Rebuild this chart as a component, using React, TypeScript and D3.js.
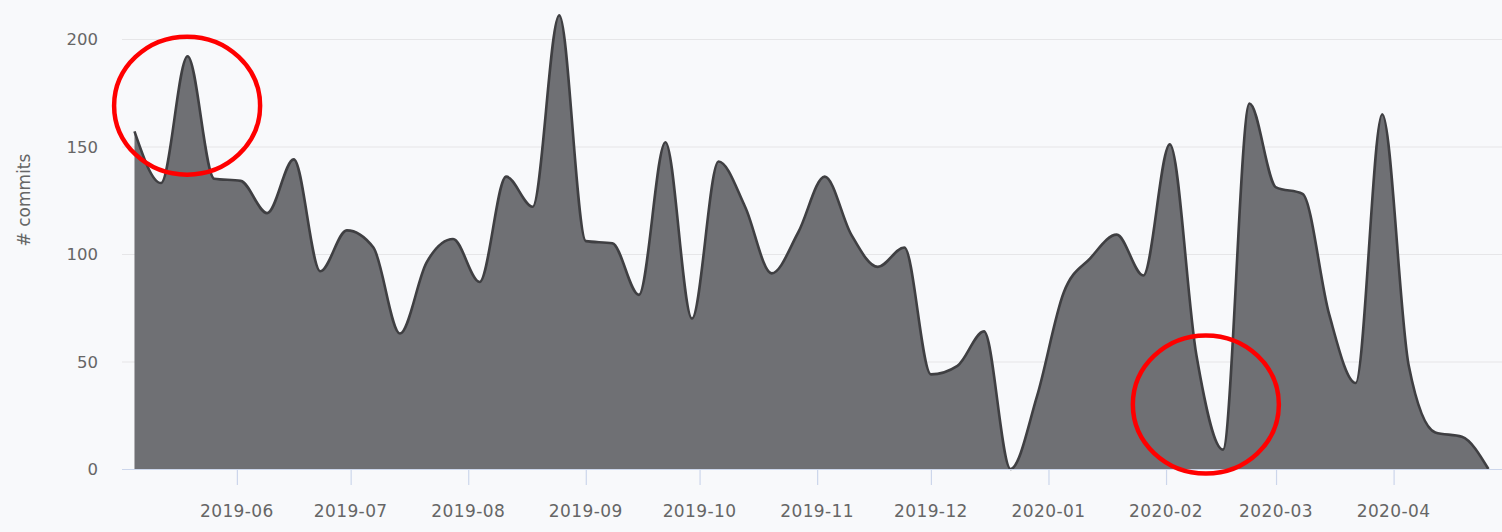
import React from 'react';
import * as d3 from 'd3';

// Weekly commit counts (weeks starting on Sunday)
const weekStarts: Date[] = d3.utcWeek.range(new Date(Date.UTC(2019, 4, 5)), new Date(Date.UTC(2020, 3, 27)));
const commits: number[] = [
  157, 133, 192, 135, 134, 119, 144, 92, 111, 103, 63, 96, 107, 87, 136, 122,
  211, 106, 105, 81, 152, 70, 143, 122, 91, 110, 136, 109, 94, 103, 44, 48,
  64, 0, 34, 82, 98, 109, 90, 151, 53, 9, 170, 131, 128, 72, 40, 165,
  48, 17, 15, 0,
];
const yTicks: number[] = [0, 50, 100, 150, 200];
const monthTicks: Date[] = d3.utcMonth.range(new Date(Date.UTC(2019, 5, 1)), new Date(Date.UTC(2020, 4, 1)));
const yTitle = '# commits';

// Annotation ellipses (centre as date / value)
const annotationDates: Date[] = [new Date(Date.UTC(2019, 4, 18, 21)), new Date(Date.UTC(2020, 1, 11, 12))];
const annotationValues: number[] = [169, 30];

const W = 1502;
const H = 532;

export default function App() {
  const x = d3
    .scaleUtc()
    .domain([new Date(Date.UTC(2019, 4, 1, 17)), new Date(Date.UTC(2020, 3, 29, 14))])
    .range([122, 1502]);
  const y = d3.scaleLinear().domain([0, 200]).range([469, 39]);

  const data = weekStarts.map((d, i) => ({ d, v: commits[i] }));
  const area = d3
    .area<{ d: Date; v: number }>()
    .x((p) => x(p.d))
    .y0(y(0))
    .y1((p) => y(p.v))
    .curve(d3.curveMonotoneX);
  const line = d3
    .line<{ d: Date; v: number }>()
    .x((p) => x(p.d))
    .y((p) => y(p.v))
    .curve(d3.curveMonotoneX);
  const fmt = d3.utcFormat('%Y-%m');
  const font = "'DejaVu Sans', sans-serif";

  return (
    <svg
      width={W}
      height={H}
      style={{ position: 'absolute', left: 0, top: 0, display: 'block' }}
      fontFamily={font}
    >
      <rect x={0} y={0} width={W} height={H} fill="#f8f9fb" />
      {yTicks.map((t) =>
        t === 0 ? null : (
          <line key={'g' + t} x1={122} x2={W} y1={y(t) + 0.5} y2={y(t) + 0.5} stroke="#e6e6e8" strokeWidth={1.2} />
        )
      )}
      <path d={area(data) || ''} fill="#6f7074" />
      <path d={line(data) || ''} fill="none" stroke="#3f3f42" strokeWidth={2.6} strokeLinejoin="round" />
      <line x1={122} x2={W} y1={y(0) + 0.5} y2={y(0) + 0.5} stroke="#ccd6eb" strokeWidth={1.2} />
      {monthTicks.map((m) => (
        <g key={m.toISOString()}>
          <line x1={x(m) + 0.5} x2={x(m) + 0.5} y1={470} y2={485} stroke="#ccd6eb" strokeWidth={1.2} />
          <text x={x(m)} y={517} textAnchor="middle" fontSize={17} letterSpacing={0.4} fill="#666666">
            {fmt(m)}
          </text>
        </g>
      ))}
      {yTicks.map((t) => (
        <text key={'l' + t} x={98} y={y(t) + 6} textAnchor="end" fontSize={16.5} fill="#666666">
          {t}
        </text>
      ))}
      <text
        transform={`translate(30, 200) rotate(-90)`}
        textAnchor="middle"
        fontSize={17}
        fill="#666666"
      >
        {yTitle}
      </text>
      {annotationDates.map((d, i) => (
        <ellipse
          key={'a' + i}
          cx={x(d)}
          cy={y(annotationValues[i])}
          rx={73}
          ry={69}
          fill="none"
          stroke="#ff0000"
          strokeWidth={4.5}
        />
      ))}
    </svg>
  );
}
